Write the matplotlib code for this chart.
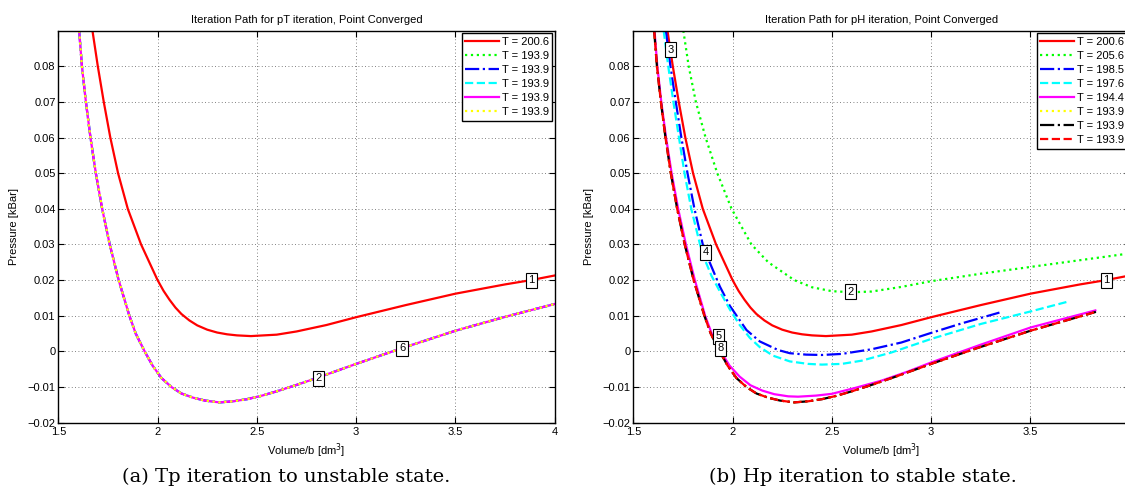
import matplotlib
matplotlib.use("Agg")
import matplotlib.pyplot as plt
import numpy as np

plt.rcParams['font.family'] = ['Liberation Sans', 'DejaVu Sans']

# ---------------- data ----------------
# Left panel: pT iteration
red_x = [1.672, 1.699, 1.729, 1.762, 1.801, 1.85, 1.917, 2.0, 2.03, 2.06, 2.09, 2.12, 2.16,
         2.2, 2.25, 2.3, 2.35, 2.4, 2.47, 2.6, 2.7, 2.85, 3.0, 3.25, 3.5, 3.75, 3.88, 4.0]
red_y = [0.09, 0.08, 0.07, 0.06, 0.05, 0.04, 0.03, 0.02, 0.017, 0.0145, 0.0123, 0.0105, 0.0087,
         0.0073, 0.0061, 0.0053, 0.0048, 0.0045, 0.0043, 0.0047, 0.0056, 0.0074, 0.0096, 0.013,
         0.0162, 0.0188, 0.020, 0.0213]

conv_x = [1.605, 1.619, 1.639, 1.662, 1.689, 1.721, 1.759, 1.804, 1.858, 1.89, 1.935, 1.975,
          2.02, 2.07, 2.12, 2.18, 2.24, 2.31, 2.38, 2.45, 2.52, 2.6, 2.7, 2.81, 3.0, 3.23,
          3.5, 3.75, 4.0]
conv_y = [0.09, 0.08, 0.07, 0.06, 0.05, 0.04, 0.03, 0.02, 0.01, 0.005, 0.0, -0.004,
          -0.0075, -0.01, -0.0118, -0.013, -0.0138, -0.0143, -0.014, -0.0134, -0.0125, -0.0112,
          -0.0094, -0.0073, -0.0035, 0.0009, 0.0058, 0.0097, 0.0133]

left_temps = ["200.6", "193.9", "193.9", "193.9", "193.9", "193.9"]
left_labels = ["1", "2", "6"]
left_label_x = [3.881, 2.811, 3.231]
left_label_y = [0.020, -0.0075, 0.0009]

# Right panel: pH iteration
green_x = [1.752, 1.779, 1.815, 1.864, 1.923, 1.995, 2.095, 2.18, 2.311, 2.4, 2.5, 2.6, 2.7,
           2.85, 3.0, 3.25, 3.5, 3.75, 4.0]
green_y = [0.09, 0.08, 0.07, 0.06, 0.05, 0.04, 0.03, 0.025, 0.02, 0.018, 0.0169, 0.0166, 0.0168,
           0.0181, 0.0197, 0.0218, 0.0237, 0.0256, 0.0275]

blue_x = [1.664, 1.687, 1.714, 1.742, 1.773, 1.808, 1.85, 1.883, 1.936, 1.986, 2.07, 2.137,
          2.229, 2.288, 2.37, 2.45, 2.55, 2.7, 2.85, 3.0, 3.15, 3.344]
blue_y = [0.09, 0.08, 0.07, 0.06, 0.05, 0.04, 0.03, 0.0252, 0.0182, 0.0128, 0.006, 0.0028,
          0.0004, -0.0005, -0.0009, -0.001, -0.0007, 0.0006, 0.0025, 0.0052, 0.0078, 0.0109]

cyan_x = [1.653, 1.676, 1.702, 1.73, 1.758, 1.792, 1.836, 1.862, 1.894, 1.94, 1.986, 2.036,
          2.087, 2.137, 2.204, 2.288, 2.38, 2.45, 2.55, 2.65, 2.8, 3.0, 3.25, 3.5, 3.698]
cyan_y = [0.09, 0.08, 0.07, 0.06, 0.05, 0.04, 0.03, 0.0255, 0.0212, 0.0164, 0.0118, 0.0074,
          0.0038, 0.0012, -0.0012, -0.0028, -0.0035, -0.0037, -0.0035, -0.0026, -0.0003, 0.0035,
          0.0077, 0.0112, 0.0141]

mag_x = [1.607, 1.621, 1.641, 1.665, 1.693, 1.726, 1.765, 1.81, 1.862, 1.895, 1.94, 1.985,
         2.036, 2.09, 2.15, 2.21, 2.28, 2.33, 2.42, 2.5, 2.62, 2.75, 2.88, 3.0, 3.25, 3.5, 3.827]
mag_y = [0.09, 0.08, 0.07, 0.06, 0.05, 0.04, 0.03, 0.02, 0.01, 0.005, 0.0, -0.004,
         -0.0071, -0.0095, -0.011, -0.012, -0.0126, -0.0127, -0.0124, -0.0119, -0.0102, -0.0082,
         -0.0057, -0.0031, 0.0019, 0.0067, 0.0115]

fin_x = [1.605, 1.619, 1.639, 1.662, 1.689, 1.721, 1.759, 1.804, 1.858, 1.89, 1.935, 1.975,
         2.02, 2.07, 2.12, 2.18, 2.24, 2.31, 2.38, 2.45, 2.52, 2.6, 2.7, 2.81, 3.0, 3.23,
         3.5, 3.83]
fin_y = [0.09, 0.08, 0.07, 0.06, 0.05, 0.04, 0.03, 0.02, 0.01, 0.005, 0.0, -0.004,
         -0.0075, -0.01, -0.0118, -0.013, -0.0138, -0.0143, -0.014, -0.0134, -0.0125, -0.0112,
         -0.0094, -0.0073, -0.0035, 0.0009, 0.0058, 0.0111]

right_temps = ["200.6", "205.6", "198.5", "197.6", "194.4", "193.9", "193.9", "193.9"]
right_labels = ["1", "2", "3", "4", "5", "8"]
right_label_x = [3.881, 2.595, 1.689, 1.864, 1.929, 1.941]
right_label_y = [0.020, 0.0168, 0.0847, 0.0278, 0.0042, 0.0009]

x_ticks = [1.5, 2, 2.5, 3, 3.5, 4]
x_ticklabels_left = ["1.5", "2", "2.5", "3", "3.5", "4"]
x_ticklabels_right = ["1.5", "2", "2.5", "3", "3.5", ""]
y_ticks = [-0.02, -0.01, 0, 0.01, 0.02, 0.03, 0.04, 0.05, 0.06, 0.07, 0.08]
y_ticklabels = ["\u22120.02", "\u22120.01", "0", "0.01", "0.02", "0.03", "0.04",
                "0.05", "0.06", "0.07", "0.08"]

# ---------------- figure ----------------
W, H = 1125, 493
fig = plt.figure(figsize=(W / 100, H / 100), dpi=100)

ax_bottom = (H - 422.7) / H
ax_height = (422.7 - 31) / H
ax_width = 496.4 / W
axL = fig.add_axes([58.3 / W, ax_bottom, ax_width, ax_height])
axR = fig.add_axes([633.3 / W, ax_bottom, ax_width, ax_height])

LW = 1.6
styles_left = [
    dict(color=(1, 0, 0), ls='-'),
    dict(color=(0, 1, 0), ls=':'),
    dict(color=(0, 0, 1), ls='-.'),
    dict(color=(0, 1, 1), ls='--'),
    dict(color=(1, 0, 1), ls='-'),
    dict(color=(1, 1, 0), ls=':'),
]
left_series = [(red_x, red_y)] + [(conv_x, conv_y)] * 5
for (xs, ys), st, t in zip(left_series, styles_left, left_temps):
    axL.plot(xs, ys, lw=LW, label=f"T = {t}", **st)

styles_right = [
    dict(color=(1, 0, 0), ls='-'),
    dict(color=(0, 1, 0), ls=':'),
    dict(color=(0, 0, 1), ls='-.'),
    dict(color=(0, 1, 1), ls='--'),
    dict(color=(1, 0, 1), ls='-'),
    dict(color=(1, 1, 0), ls=':'),
    dict(color=(0, 0, 0), ls='-.'),
    dict(color=(1, 0, 0), ls='--'),
]
right_series = [(red_x, red_y), (green_x, green_y), (blue_x, blue_y), (cyan_x, cyan_y),
                (mag_x, mag_y), (fin_x, fin_y), (fin_x, fin_y), (fin_x, fin_y)]
for (xs, ys), st, t in zip(right_series, styles_right, right_temps):
    axR.plot(xs, ys, lw=LW, label=f"T = {t}", **st)

box = dict(boxstyle='square,pad=0.22', fc='white', ec='black', lw=0.8)
for lab, lx, ly in zip(left_labels, left_label_x, left_label_y):
    axL.text(lx, ly, lab, ha='center', va='center', fontsize=8, bbox=box, zorder=5)
for lab, lx, ly in zip(right_labels, right_label_x, right_label_y):
    axR.text(lx, ly, lab, ha='center', va='center', fontsize=8, bbox=box, zorder=5)

titles = ["Iteration Path for pT iteration, Point Converged",
          "Iteration Path for pH iteration, Point Converged"]
for ax, title, xtl in zip([axL, axR], titles, [x_ticklabels_left, x_ticklabels_right]):
    ax.set_xlim(1.5, 4.0)
    ax.set_ylim(-0.02, 0.0899)
    ax.set_xticks(x_ticks)
    ax.set_xticklabels(xtl)
    ax.set_yticks(y_ticks)
    ax.set_yticklabels(y_ticklabels)
    ax.tick_params(direction='in', top=True, right=True, length=4, width=0.8,
                   labelsize=8, pad=2)
    ax.tick_params(axis='x', pad=3)
    ax.grid(True, color='0.35', linestyle=(0, (1, 3)), linewidth=0.6)
    for sp in ax.spines.values():
        sp.set_linewidth(1.0)
    ax.set_title(title, fontsize=8, pad=6)
    ax.set_xlabel("Volume/b [dm$^3$]", fontsize=8, labelpad=3)
    ax.set_ylabel("Pressure [kBar]", fontsize=8, labelpad=6)
    leg = ax.legend(loc='upper right', fontsize=8, handlelength=3.0, handletextpad=0.25,
                    labelspacing=0.36, borderpad=0.35, borderaxespad=0.2,
                    fancybox=False, framealpha=1, edgecolor='black')
    leg.get_frame().set_linewidth(1.0)

fig.text(286.5 / W, 1 - 477 / H, "(a) Tp iteration to unstable state.",
         ha='center', va='center', fontsize=14, family='DejaVu Serif')
fig.text(862.5 / W, 1 - 477 / H, "(b) Hp iteration to stable state.",
         ha='center', va='center', fontsize=14, family='DejaVu Serif')

fig.savefig("out.png", dpi=100)
